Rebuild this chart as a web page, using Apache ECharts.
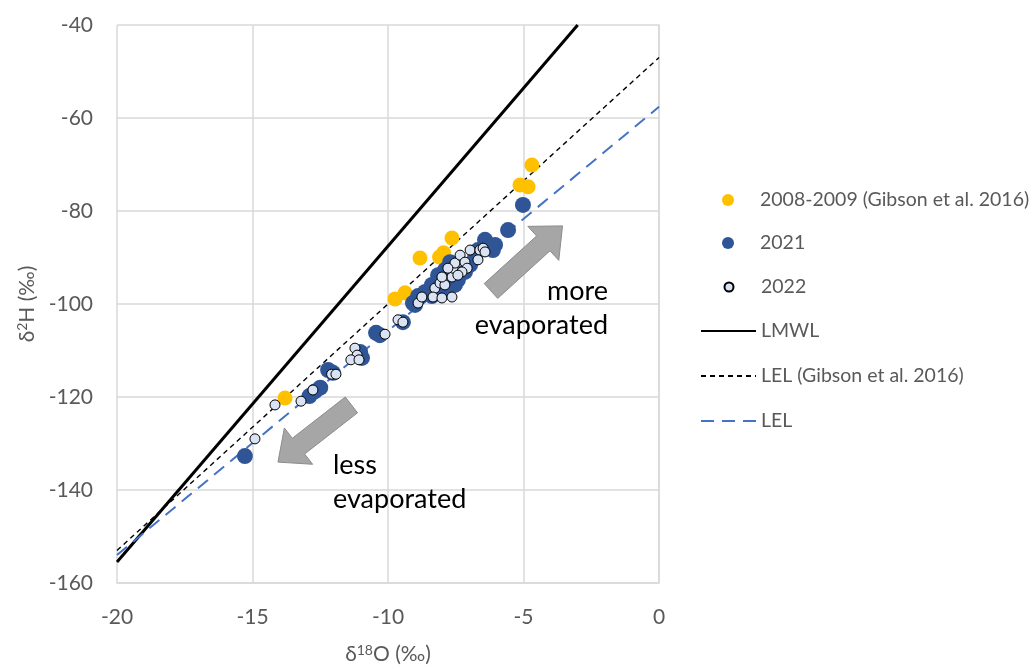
<!DOCTYPE html>
<html>
<head>
<meta charset="utf-8">
<script src="https://cdn.jsdelivr.net/npm/echarts@6/dist/echarts.min.js"></script>
<style>
html,body{margin:0;padding:0;background:#fff;}
#chart{width:1034px;height:670px;}
</style>
</head>
<body>
<div id="chart"></div>
<script>
// ---- Data ----
const gibsonX = [-13.8, -9.74, -9.37, -8.82, -8.10, -7.95, -7.64, -5.13, -4.83, -4.69];
const gibsonY = [-120.2, -98.9, -97.6, -90.1, -89.9, -89.0, -85.8, -74.4, -74.8, -70.1];

const y2021X = [-15.28, -12.9, -12.7, -12.5, -12.21, -12.03, -11.03, -10.96, -10.44, -10.30, -9.45, -9.0, -8.82, -8.63, -9.08, -8.89, -8.38, -8.38, -8.08, -7.82, -7.53, -7.42, -8.15, -7.90, -7.71, -7.16, -6.97, -6.79, -6.68, -6.42, -6.05, -6.13, -5.57, -5.02];
const y2021Y = [-132.7, -119.8, -118.8, -118.0, -114.2, -114.8, -110.3, -111.6, -106.2, -106.7, -103.9, -100.2, -98.5, -97.4, -99.8, -98.3, -95.9, -98.3, -97.4, -97.0, -95.9, -94.8, -93.8, -92.7, -91.0, -93.1, -91.6, -90.1, -88.4, -86.2, -87.3, -88.4, -84.1, -78.7];

const y2022X = [-14.91, -14.17, -13.21, -12.77, -12.08, -11.92, -11.22, -11.14, -11.37, -11.07, -10.11, -9.63, -9.45, -8.89, -8.75, -8.27, -8.34, -8.01, -7.64, -8.08, -7.90, -7.64, -7.60, -7.53, -7.34, -7.16, -7.08, -7.27, -7.42, -6.97, -6.61, -6.49, -6.42, -6.68, -8.01, -7.79];
const y2022Y = [-129.0, -121.7, -120.9, -118.5, -115.1, -115.1, -109.5, -111.0, -112.0, -112.0, -106.5, -103.4, -103.9, -99.8, -98.5, -96.6, -98.5, -98.7, -98.5, -95.5, -95.9, -94.2, -92.3, -91.2, -89.5, -91.0, -92.3, -93.1, -93.8, -88.4, -88.4, -88.0, -88.8, -90.5, -94.2, -92.3];

// Line end points
const lmwlX = [-20, -3];
const lmwlY = [-155.5, -40];
const lelGibsonX = [-20, 0];
const lelGibsonY = [-153, -47];
const lelX = [-20, 0];
const lelY = [-154, -57.6];

// Axis ticks
const xTicks = {min: -20, max: 0, interval: 5};
const yTicks = {min: -160, max: -40, interval: 20};

const seriesNames = ['2008-2009 (Gibson et al. 2016)', '2021', '2022', 'LMWL', 'LEL (Gibson et al. 2016)', 'LEL'];

// Annotation arrows (data coords: tail -> tip) and labels
const arrowMore = {from: [-6.2, -97.2], to: [-3.56, -83.2]};
const arrowLess = {from: [-11.35, -121.7], to: [-14.06, -134.0]};
const noteMore = ['more', 'evaporated'];
const noteLess = ['less', 'evaporated'];

const zip = (xs, ys) => xs.map((x, i) => [x, ys[i]]);
const FONT = 'Lato, "Open Sans", sans-serif';
const GREY = '#595959';
const LEGEND_FS = 19.5;

const chart = echarts.init(document.getElementById('chart'), null, {renderer: 'canvas'});

// symbol legends: icon box = itemHeight wide, centred at x=728; text starts at 760
function symbolLegend(name, centerY, size) {
  const left = 728 - size / 2;
  return {
    data: [name], left: left, top: centerY - 12, orient: 'vertical',
    padding: 0, itemWidth: size, itemHeight: size, itemGap: 0, selectedMode: false,
    textStyle: {fontFamily: FONT, fontSize: LEGEND_FS, color: GREY, lineHeight: 24,
      padding: [0, 0, 0, 760 - (left + size + 5)]}
  };
}
// line legends: line from 700 to 755, text at 760
function lineLegend(name, centerY) {
  return {
    data: [name], left: 700, top: centerY - 12, orient: 'vertical',
    padding: 0, itemWidth: 55, itemHeight: 12, itemGap: 0, selectedMode: false,
    itemStyle: {opacity: 0},
    textStyle: {fontFamily: FONT, fontSize: LEGEND_FS, color: GREY, lineHeight: 24, padding: [0, 0, 0, 0]}
  };
}

const axisNameStyle = {
  rich: {
    n: {fontFamily: FONT, fontSize: 21, color: GREY},
    sup: {fontFamily: FONT, fontSize: 14, color: GREY, verticalAlign: 'top', padding: [0, 0, 9, 0]}
  }
};

const option = {
  animation: false,
  backgroundColor: '#ffffff',
  grid: {left: 117, right: 375, top: 25, bottom: 87, containLabel: false},
  legend: [
    symbolLegend(seriesNames[0], 200, 12),
    symbolLegend(seriesNames[1], 243, 12),
    symbolLegend(seriesNames[2], 287, 9),
    lineLegend(seriesNames[3], 331),
    lineLegend(seriesNames[4], 376),
    lineLegend(seriesNames[5], 421)
  ],
  xAxis: {
    type: 'value',
    min: xTicks.min, max: xTicks.max, interval: xTicks.interval,
    name: '{n|δ}{sup|18}{n|O (‰)}',
    nameLocation: 'middle',
    nameGap: 60,
    nameTextStyle: axisNameStyle,
    axisLine: {show: true, lineStyle: {color: '#D9D9D9', width: 1.5}},
    axisTick: {show: false},
    axisLabel: {fontFamily: FONT, fontSize: 21, color: GREY, margin: 24},
    splitLine: {show: true, lineStyle: {color: '#D9D9D9', width: 1.5}}
  },
  yAxis: {
    type: 'value',
    min: yTicks.min, max: yTicks.max, interval: yTicks.interval,
    name: '{n|δ}{sup|2}{n|H (‰)}',
    nameLocation: 'middle',
    nameGap: 76,
    nameTextStyle: axisNameStyle,
    axisLine: {show: true, lineStyle: {color: '#D9D9D9', width: 1.5}},
    axisTick: {show: false},
    axisLabel: {fontFamily: FONT, fontSize: 21, color: GREY, margin: 24},
    splitLine: {show: true, lineStyle: {color: '#D9D9D9', width: 1.5}}
  },
  series: [
    {
      name: seriesNames[3], type: 'line', data: zip(lmwlX, lmwlY), symbol: 'none',
      itemStyle: {color: '#000000'},
      lineStyle: {color: '#000000', width: 3, type: 'solid'}, z: 2, silent: true
    },
    {
      name: seriesNames[4], type: 'line', data: zip(lelGibsonX, lelGibsonY), symbol: 'none',
      itemStyle: {color: '#000000'},
      lineStyle: {color: '#000000', width: 1.4, type: [5, 4]}, z: 2, silent: true
    },
    {
      name: seriesNames[5], type: 'line', data: zip(lelX, lelY), symbol: 'none',
      itemStyle: {color: '#4472C4'},
      lineStyle: {color: '#4472C4', width: 2, type: [13, 8]}, z: 2, silent: true
    },
    {
      name: seriesNames[0], type: 'scatter', data: zip(gibsonX, gibsonY),
      symbol: 'circle', symbolSize: 15, itemStyle: {color: '#FFC000', opacity: 1}, z: 3
    },
    {
      name: seriesNames[1], type: 'scatter', data: zip(y2021X, y2021Y),
      symbol: 'circle', symbolSize: 16, itemStyle: {color: '#2F5597', opacity: 1}, z: 4
    },
    {
      name: seriesNames[2], type: 'scatter', data: zip(y2022X, y2022Y),
      symbol: 'circle', symbolSize: 10,
      itemStyle: {color: '#DAE3F3', borderColor: '#000000', borderWidth: 1, opacity: 1}, z: 5
    }
  ]
};

chart.setOption(option);

function arrowPolygon(a) {
  const p0 = chart.convertToPixel({gridIndex: 0}, a.from);
  const p1 = chart.convertToPixel({gridIndex: 0}, a.to);
  const dx = p1[0] - p0[0], dy = p1[1] - p0[1];
  const len = Math.sqrt(dx * dx + dy * dy);
  const ux = dx / len, uy = dy / len;
  const nx = -uy, ny = ux;
  const shaft = 10, headW = 23, headL = 26;
  const hx = p1[0] - ux * headL, hy = p1[1] - uy * headL;
  const pts = [
    [p0[0] + nx * shaft, p0[1] + ny * shaft],
    [hx + nx * shaft, hy + ny * shaft],
    [hx + nx * headW, hy + ny * headW],
    [p1[0], p1[1]],
    [hx - nx * headW, hy - ny * headW],
    [hx - nx * shaft, hy - ny * shaft],
    [p0[0] - nx * shaft, p0[1] - ny * shaft]
  ];
  return {
    type: 'polygon', shape: {points: pts},
    style: {fill: '#A6A6A6', stroke: '#8C8C8C', lineWidth: 1}, z: 10
  };
}

function noteText(lines, anchor, align) {
  const p = chart.convertToPixel({gridIndex: 0}, anchor);
  return {
    type: 'text', x: p[0], y: p[1], z: 11,
    style: {
      text: lines.join('\n'), fontFamily: FONT, fontSize: 27, lineHeight: 34,
      fill: '#000000', align: align, verticalAlign: 'top'
    }
  };
}

chart.setOption({
  graphic: [
    arrowPolygon(arrowMore),
    arrowPolygon(arrowLess),
    noteText(noteMore, [-1.88, -93.6], 'right'),
    noteText(noteLess, [-12.03, -131.1], 'left')
  ]
});
</script>
</body>
</html>
